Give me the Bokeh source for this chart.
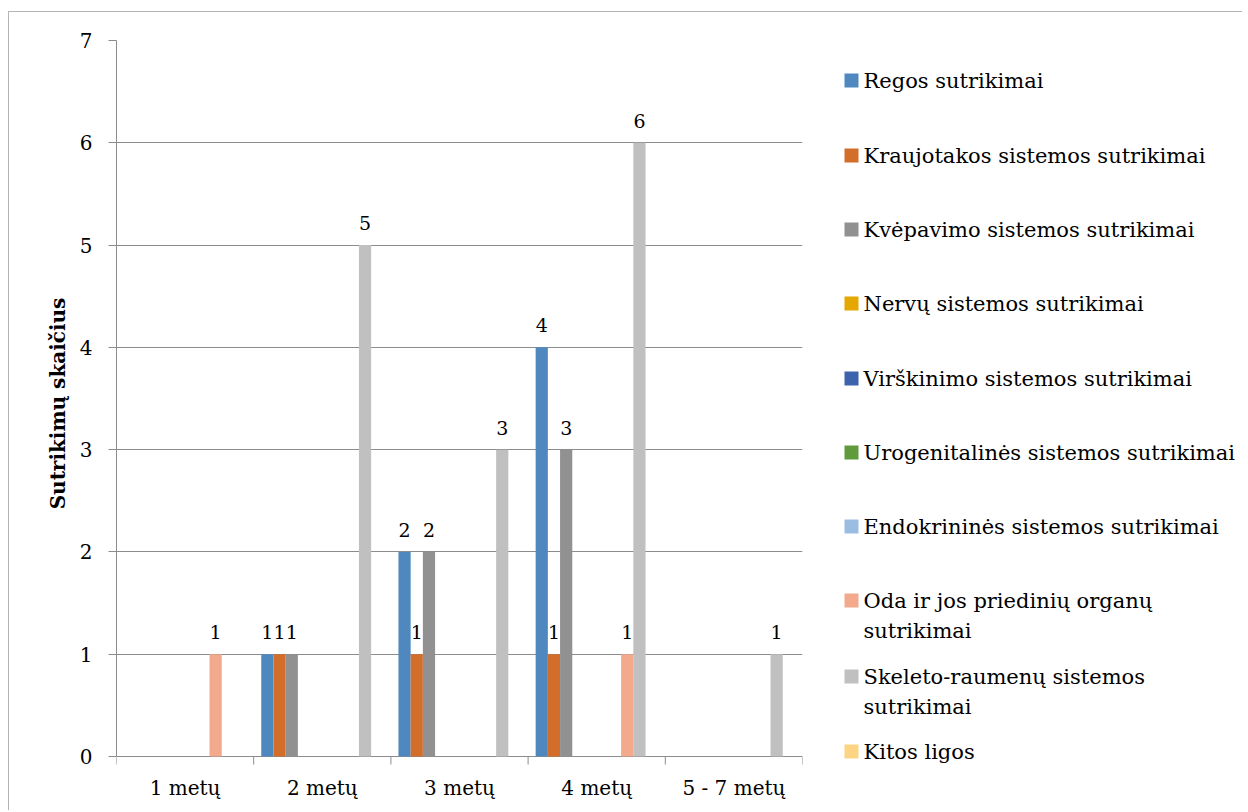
from bokeh.plotting import figure
from bokeh.layouts import row
from bokeh.models import Range1d, FixedTicker, ColumnDataSource, LabelSet
from bokeh.core.properties import value
from bokeh.embed import file_html
from bokeh.resources import INLINE

categories = ["1 metų", "2 metų", "3 metų", "4 metų", "5 - 7 metų"]
series_names = [
    "Regos sutrikimai",
    "Kraujotakos sistemos sutrikimai",
    "Kvėpavimo sistemos sutrikimai",
    "Nervų sistemos sutrikimai",
    "Virškinimo sistemos sutrikimai",
    "Urogenitalinės sistemos sutrikimai",
    "Endokrininės sistemos sutrikimai",
    "Oda ir jos priedinių organų sutrikimai",
    "Skeleto-raumenų sistemos sutrikimai",
    "Kitos ligos",
]
regos = [0, 1, 2, 4, 0]
kraujotakos = [0, 1, 1, 1, 0]
kvepavimo = [0, 1, 2, 3, 0]
nervu = [0, 0, 0, 0, 0]
virskinimo = [0, 0, 0, 0, 0]
urogenitalines = [0, 0, 0, 0, 0]
endokrinines = [0, 0, 0, 0, 0]
oda = [1, 0, 0, 1, 0]
skeleto = [0, 5, 3, 6, 1]
kitos = [0, 0, 0, 0, 0]
series_values = [regos, kraujotakos, kvepavimo, nervu, virskinimo,
                 urogenitalines, endokrinines, oda, skeleto, kitos]
colors = ["#4f88bf", "#d36d2a", "#919191", "#e4a800", "#3c64ad",
          "#5f9a3c", "#9bbde2", "#f2a98c", "#c0c0c0", "#fdd384"]
legend_lines = [
    ["Regos sutrikimai"],
    ["Kraujotakos sistemos sutrikimai"],
    ["Kvėpavimo sistemos sutrikimai"],
    ["Nervų sistemos sutrikimai"],
    ["Virškinimo sistemos sutrikimai"],
    ["Urogenitalinės sistemos sutrikimai"],
    ["Endokrininės sistemos sutrikimai"],
    ["Oda ir jos priedinių organų", "sutrikimai"],
    ["Skeleto-raumenų sistemos", "sutrikimai"],
    ["Kitos ligos"],
]
y_ticks = [0, 1, 2, 3, 4, 5, 6, 7]

FONT = "DejaVu Serif"
GRID = "#8c8c8c"

# frame geometry (page pixels)
FRAME_TOP, ZERO_Y, FRAME_BOTTOM = 40, 756, 766
YMAX = 7
px_per_unit = (ZERO_Y - FRAME_TOP) / YMAX
y_start = -(FRAME_BOTTOM - ZERO_Y) / px_per_unit
tick_len = 8 / px_per_unit
H = 798

p = figure(width=803, height=H, output_backend="svg", toolbar_location=None,
           title=None,
           x_range=Range1d(0, len(categories)), y_range=Range1d(y_start, YMAX),
           min_border_left=107, min_border_right=10, min_border_top=28,
           min_border_bottom=44)
p.outline_line_color = None
p.xgrid.visible = False
p.ygrid.grid_line_color = GRID
p.ygrid.ticker = FixedTicker(ticks=y_ticks)

n = len(series_names)
w = 0.089
centers = [i + 0.5 for i in range(len(categories))]
bounds = list(range(len(categories) + 1))

# category boundary tick marks below the zero line
p.segment(x0=bounds, y0=[0] * len(bounds), x1=bounds, y1=[-tick_len] * len(bounds),
          line_color=GRID, line_width=1)

# value labels (drawn first, bars on top)
for j in range(n):
    xs = [centers[i] + (j - (n - 1) / 2) * w for i in range(len(categories))]
    vals = series_values[j]
    lx = [x for x, v in zip(xs, vals) if v != 0]
    ly = [v for v in vals if v != 0]
    lt = [str(v) for v in vals if v != 0]
    if lx:
        p.text(x=lx, y=ly, text=lt, text_align="center", text_baseline="alphabetic",
               y_offset=-22, text_font=value(FONT), text_font_size="19px",
               text_color="black")

for j in range(n):
    xs = [centers[i] + (j - (n - 1) / 2) * w for i in range(len(categories))]
    src = ColumnDataSource(dict(x=xs, top=series_values[j]))
    p.vbar(x="x", top="top", bottom=0, width=w, source=src,
           fill_color=colors[j], line_color=None)

p.xaxis.ticker = FixedTicker(ticks=centers)
p.xaxis.major_label_overrides = {c: lab for c, lab in zip(centers, categories)}
p.xaxis.axis_line_color = None
p.xaxis.major_tick_line_color = None
p.xaxis.minor_tick_line_color = None
p.xaxis.major_tick_in = 0
p.xaxis.major_tick_out = 0
p.xaxis.major_label_standoff = 9
p.xaxis.major_label_text_font = FONT
p.xaxis.major_label_text_font_size = "20px"
p.xaxis.major_label_text_color = "black"

p.yaxis.ticker = FixedTicker(ticks=y_ticks)
p.yaxis.bounds = (0, YMAX)
p.yaxis.major_tick_in = 0
p.yaxis.major_tick_out = 8
p.yaxis.minor_tick_line_color = None
p.yaxis.major_tick_line_color = GRID
p.yaxis.axis_line_color = GRID
p.yaxis.major_label_standoff = 16
p.yaxis.major_label_text_font = FONT
p.yaxis.major_label_text_font_size = "20px"
p.yaxis.major_label_text_color = "black"
p.yaxis.axis_label = "Sutrikimų skaičius"
p.yaxis.axis_label_text_font = FONT
p.yaxis.axis_label_text_font_style = "bold"
p.yaxis.axis_label_text_font_size = "20px"
p.yaxis.axis_label_text_color = "black"
p.yaxis.axis_label_standoff = 7

# legend panel: x in pixels from panel left, y in page pixels (frame aligned with main plot)
LW = 430
lg = figure(width=LW, height=H, output_backend="svg", toolbar_location=None,
            title=None, x_axis_location=None, y_axis_location=None,
            x_range=Range1d(0, LW), y_range=Range1d(FRAME_BOTTOM, FRAME_TOP),
            min_border=0)
lg.grid.visible = False
lg.outline_line_color = None
sq_y = [80, 155, 229, 303, 378, 452, 526, 600, 676, 751]
lg.rect(x=[39] * n, y=sq_y, width=14, height=14, width_units="screen",
        height_units="screen", fill_color=colors, line_color=None)
tx, ty, tt = [], [], []
for yy, lines in zip(sq_y, legend_lines):
    for k, line in enumerate(lines):
        tx.append(51)
        ty.append(yy + 7 + 30 * k)
        tt.append(line)
leg_src = ColumnDataSource(dict(x=tx, y=ty, text=tt))
lg.add_layout(LabelSet(x="x", y="y", text="text", source=leg_src,
                       text_align="left", text_baseline="alphabetic",
                       text_font=value(FONT), text_font_size="21px",
                       text_color="black"))

layout = row(p, lg)
layout.margin = (11, 0, 0, 8)
layout.styles = {"border-left": "1px solid #b4b4b4", "border-top": "1px solid #b4b4b4"}

open("out.html", "w").write(file_html(layout, INLINE))
